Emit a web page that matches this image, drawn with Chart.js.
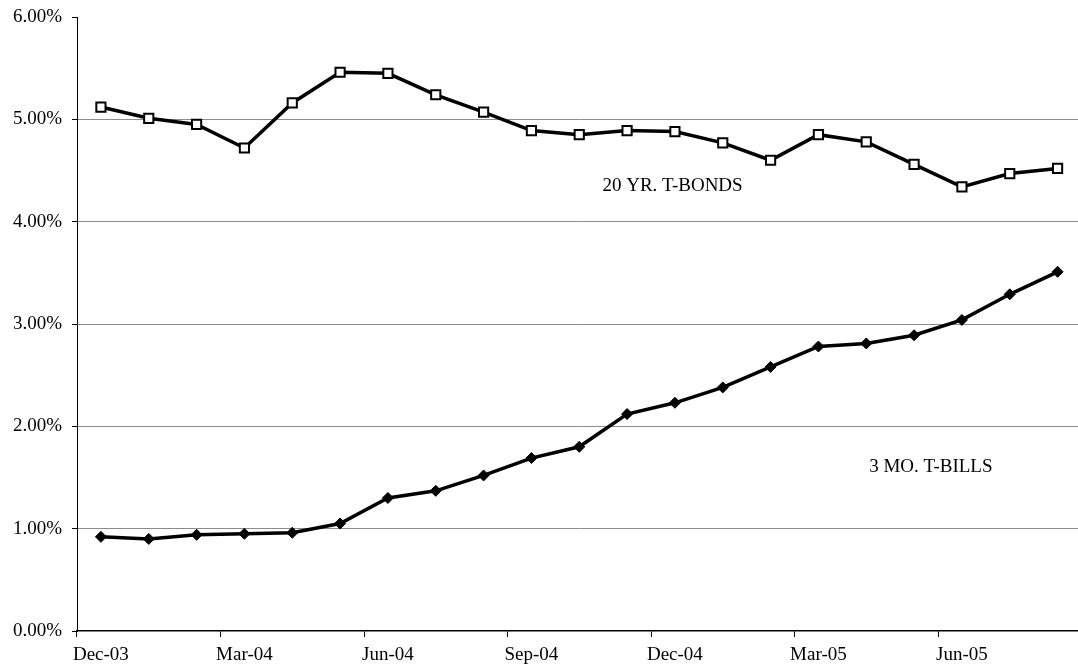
<!DOCTYPE html>
<html>
<head>
<meta charset="utf-8">
<script src="https://cdn.jsdelivr.net/npm/chart.js@4/dist/chart.umd.min.js"></script>
<style>
  html, body { margin: 0; padding: 0; background: #fff; overflow: hidden; }
  #wrap { width: 1090px; height: 672px; }
</style>
</head>
<body>
<div id="wrap"><canvas id="c"></canvas></div>
<script>
// Monthly yields, Dec-03 through Aug-05
const months = ['Dec-03','Jan-04','Feb-04','Mar-04','Apr-04','May-04','Jun-04','Jul-04','Aug-04',
  'Sep-04','Oct-04','Nov-04','Dec-04','Jan-05','Feb-05','Mar-05','Apr-05','May-05','Jun-05','Jul-05','Aug-05'];
const bonds20yr = [5.12, 5.01, 4.95, 4.72, 5.16, 5.46, 5.45, 5.24, 5.07, 4.89, 4.85,
  4.89, 4.88, 4.77, 4.60, 4.85, 4.78, 4.56, 4.34, 4.47, 4.52];
const bills3mo = [0.92, 0.90, 0.94, 0.95, 0.96, 1.05, 1.30, 1.37, 1.52, 1.69, 1.80,
  2.12, 2.23, 2.38, 2.58, 2.78, 2.81, 2.89, 3.04, 3.29, 3.51];
const yTicks = [0, 1, 2, 3, 4, 5, 6];

// Series captions placed inside the plot (category index, value)
const seriesNotes = [
  { text: '20 YR. T-BONDS', at: 11.95, value: 4.35 },
  { text: '3 MO. T-BILLS', at: 17.35, value: 1.60 }
];

const FONT = "'Liberation Serif', 'Times New Roman', serif";
const FONT_SIZE = 19;
// Every third month gets a label and a tick mark
const LABEL_EVERY = 3;

const notesPlugin = {
  id: 'seriesNotes',
  afterDatasetsDraw(chart) {
    const ctx = chart.ctx, xs = chart.scales.x, ys = chart.scales.y;
    ctx.save();
    ctx.font = FONT_SIZE + 'px ' + FONT;
    ctx.fillStyle = '#000';
    ctx.textAlign = 'center';
    ctx.textBaseline = 'middle';
    seriesNotes.forEach(n => {
      ctx.fillText(n.text, xs.getPixelForValue(n.at), ys.getPixelForValue(n.value));
    });
    ctx.restore();
  }
};

new Chart(document.getElementById('c'), {
  type: 'line',
  data: {
    labels: months,
    datasets: [
      {
        label: '20 YR. T-BONDS',
        data: bonds20yr,
        borderColor: '#000',
        borderWidth: 3.5,
        pointStyle: 'rect',
        pointRadius: 6.5,
        pointBorderWidth: 2,
        pointBackgroundColor: '#fff',
        pointBorderColor: '#000',
        tension: 0
      },
      {
        label: '3 MO. T-BILLS',
        data: bills3mo,
        borderColor: '#000',
        borderWidth: 3.5,
        pointStyle: 'rectRot',
        pointRadius: 5.5,
        pointBorderWidth: 1,
        pointBackgroundColor: '#000',
        pointBorderColor: '#000',
        tension: 0
      }
    ]
  },
  options: {
    responsive: true,
    maintainAspectRatio: false,
    animation: false,
    layout: { padding: { top: 17, right: 6, bottom: 0, left: 0 } },
    plugins: { legend: { display: false }, tooltip: { enabled: false } },
    scales: {
      x: {
        type: 'category',
        offset: true,
        afterFit(scale) { scale.height = 41; },
        grid: {
          offset: true,
          drawOnChartArea: false,
          drawTicks: true,
          tickLength: 6,
          color: '#000',
          tickColor: c => (c.index % LABEL_EVERY === 0 ? '#000' : 'rgba(0,0,0,0)')
        },
        border: { color: '#000', width: 1.5 },
        ticks: {
          autoSkip: false,
          maxRotation: 0,
          padding: 7,
          color: '#000',
          font: { family: FONT, size: FONT_SIZE },
          callback(value, index) {
            return index % LABEL_EVERY === 0 ? this.getLabelForValue(value) : '';
          }
        }
      },
      y: {
        min: 0,
        max: 6,
        afterFit(scale) {
          scale.width = 77;
          scale.paddingTop = 0;
          scale.paddingBottom = 0;
        },
        afterBuildTicks(scale) { scale.ticks = yTicks.map(v => ({ value: v })); },
        grid: {
          color: c => (c.tick && c.tick.value > 0 && c.tick.value < 6) ? '#8c8c8c' : 'rgba(0,0,0,0)',
          tickColor: '#000',
          lineWidth: 1,
          tickLength: 5
        },
        border: { color: '#000', width: 1 },
        ticks: {
          padding: 10,
          color: '#000',
          font: { family: FONT, size: FONT_SIZE },
          callback: v => v.toFixed(2) + '%'
        }
      }
    }
  },
  plugins: [notesPlugin]
});
</script>
</body>
</html>
